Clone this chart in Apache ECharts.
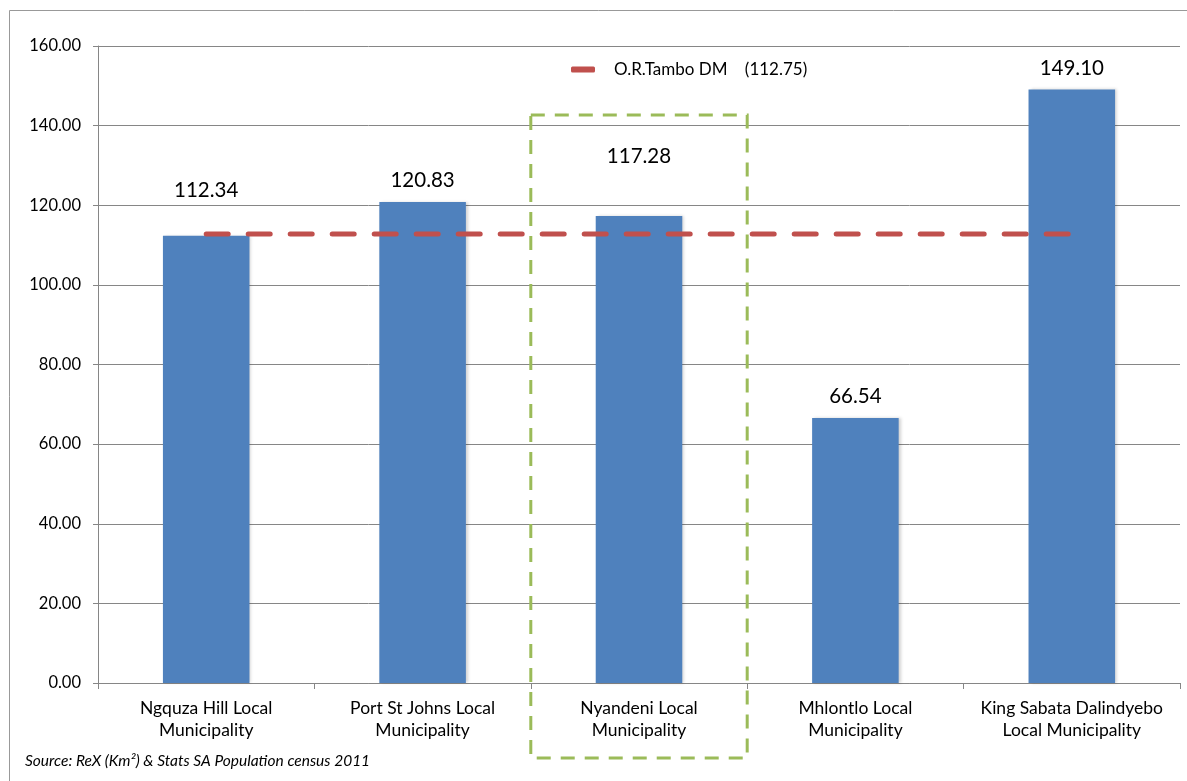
<!DOCTYPE html>
<html>
<head>
    <meta charset="utf-8">
    <title>Population density</title>
    <script src="https://cdn.jsdelivr.net/npm/echarts@6/dist/echarts.min.js"></script>
    <style>
        html, body { margin: 0; padding: 0; background: #fff; }
        #main { width: 1187px; height: 781px; }
    </style>
</head>
<body>
    <div id="main"></div>
    <script>
        // data
        var categories = ['Ngquza Hill Local\nMunicipality', 'Port St Johns Local\nMunicipality',
            'Nyandeni Local\nMunicipality', 'Mhlontlo Local\nMunicipality',
            'King Sabata Dalindyebo\nLocal Municipality'];
        var density = [112.34, 120.83, 117.28, 66.54, 149.10];
        var districtAvg = [112.75, 112.75, 112.75, 112.75, 112.75];
        var districtName = 'O.R.Tambo DM    (112.75)';
        var highlightIndex = 2;
        // labels that were nudged up in the original so the dashed line stays clear
        var labelShift = [-24, 0, -38, 0, 0];

        var font = 'Lato, "Open Sans", sans-serif';
        var myChart = echarts.init(document.getElementById('main'));

        var barData = density.map(function (v, i) {
            return { value: v, label: { offset: [0, labelShift[i]] } };
        });

        var option = {
            animation: false,
            textStyle: { fontFamily: font },
            grid: { left: 98, right: 7, top: 46, bottom: 98 },
            legend: {
                data: [{ name: districtName, icon: 'roundRect' }],
                top: 56,
                left: 566,
                itemWidth: 24,
                itemHeight: 6,
                itemGap: 10,
                textStyle: { fontSize: 17, color: '#000', fontFamily: font, padding: [0, 0, 0, 14] }
            },
            xAxis: {
                type: 'category',
                data: categories,
                axisLine: { lineStyle: { color: '#868686' } },
                axisTick: { show: true, length: 6, lineStyle: { color: '#868686' } },
                axisLabel: { interval: 0, fontSize: 17.5, color: '#000', margin: 14, lineHeight: 22 }
            },
            yAxis: {
                type: 'value',
                min: 0,
                max: 160,
                interval: 20,
                axisLine: { show: true, lineStyle: { color: '#868686' } },
                axisTick: { show: true, length: 5, inside: false, lineStyle: { color: '#868686' } },
                splitLine: { lineStyle: { color: '#868686' } },
                axisLabel: {
                    fontSize: 16.5, color: '#000', margin: 17,
                    formatter: function (v) { return v.toFixed(2); }
                }
            },
            series: [{
                type: 'bar',
                data: barData,
                barWidth: '40%',
                itemStyle: {
                    color: '#4F81BD',
                    shadowColor: 'rgba(0,0,0,0.18)',
                    shadowBlur: 3,
                    shadowOffsetX: 2,
                    shadowOffsetY: 0
                },
                label: {
                    show: true,
                    position: 'top',
                    distance: 9,
                    fontSize: 20.5,
                    color: '#000',
                    backgroundColor: '#fff',
                    padding: [2, 6],
                    formatter: function (p) { return p.value.toFixed(2); }
                },
                z: 2
            }, {
                name: districtName,
                type: 'line',
                data: districtAvg,
                symbol: 'none',
                lineStyle: { color: '#C0504D', width: 5, type: [22, 20], cap: 'round' },
                itemStyle: { color: '#C0504D' },
                z: 3
            }]
        };
        myChart.setOption(option);

        // green dashed box around the highlighted municipality, from the axis scale
        var half = (myChart.convertToPixel({ xAxisIndex: 0 }, categories[1]) -
            myChart.convertToPixel({ xAxisIndex: 0 }, categories[0])) / 2;
        var cx = myChart.convertToPixel({ xAxisIndex: 0 }, categories[highlightIndex]);
        var boxTop = myChart.convertToPixel({ yAxisIndex: 0 }, 142.7);
        var boxBottom = myChart.convertToPixel({ yAxisIndex: 0 }, 0) + 75;

        myChart.setOption({
            graphic: [{
                type: 'rect',
                shape: { x: cx - half, y: boxTop, width: half * 2, height: boxBottom - boxTop },
                style: { fill: 'none', stroke: '#9BBB59', lineWidth: 3, lineDash: [14, 10] },
                z: 10
            }, {
                type: 'rect',
                shape: { x: 9.5, y: 10.5, width: 1180, height: 790 },
                style: { fill: 'none', stroke: '#999', lineWidth: 1 },
                silent: true
            }, {
                type: 'text',
                left: 25,
                top: 753,
                style: {
                    text: 'Source: ReX (Km\u00b2) & Stats SA Population census 2011',
                    fontSize: 15.5, fontStyle: 'italic', fill: '#000', fontFamily: font
                }
            }]
        });
    </script>
</body>
</html>
